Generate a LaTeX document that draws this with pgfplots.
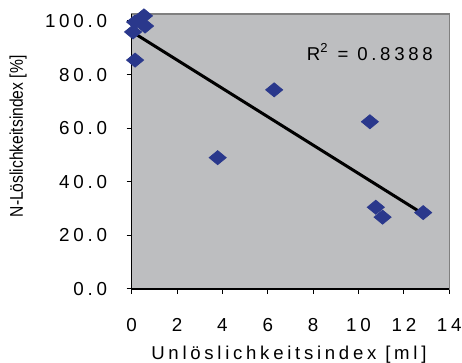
\documentclass[border=0pt]{standalone}
\usepackage{fontspec}
\setmainfont{Liberation Sans}
\newfontfamily\spaced{Liberation Sans}[LetterSpace=20]
\newfontfamily\rfont{Liberation Sans}[LetterSpace=20]
\usepackage{graphicx}
\usepackage{pgfplots}
\pgfplotsset{compat=1.18}
\definecolor{plotgray}{RGB}{189,190,192}
\definecolor{bordergray}{RGB}{128,128,128}
\definecolor{navy}{RGB}{42,56,140}
\begin{document}
\begin{tikzpicture}
\useasboundingbox (-65.85pt,-37pt) rectangle (165.15pt,144.5pt);
\begin{axis}[
  scale only axis,
  width=158.8pt, height=137.5pt,
  xmin=0, xmax=14, ymin=0, ymax=102.6,
  xtick={0,2,...,14}, ytick={0,20,...,100},
  xtick pos=bottom, ytick pos=left,
  tick align=outside,
  major tick length=2.5pt,
  tick style={black, line width=0.5pt},
  axis background/.style={fill=plotgray},
  axis line style={draw=bordergray, line width=0.6pt},
  /pgf/number format/assume math mode=true,
  yticklabel={\pgfmathprintnumber[fixed, fixed zerofill, precision=1]{\tick}},
  xticklabel={\pgfmathprintnumber{\tick}},
  ticklabel style={font=\spaced\fontsize{9.4}{11}\selectfont},
  yticklabel style={inner sep=0pt, anchor=east, xshift=-9.6pt},
  xticklabel style={inner sep=0pt, anchor=base, yshift=-18.85pt},
  xlabel={Unlöslichkeitsindex [ml]},
  ylabel={\scalebox{0.85}[1]{N-Löslichkeitsindex [\%]}},
  xlabel style={font=\spaced\fontsize{9.3}{11}\selectfont, at={(axis description cs:0.495,-0.258)}, anchor=base, inner sep=0pt},
  ylabel style={font=\fontsize{9.2}{11}\selectfont, at={(axis description cs:-0.358,0.555)}, anchor=center, inner sep=0pt},
  clip=false,
]
\draw[black, line width=0.6pt] (rel axis cs:0,1) -- (rel axis cs:0,0) -- (rel axis cs:1,0);
\addplot[black, line width=1.5pt, no marks] coordinates {(0.06,95.7) (12.85,28.0)};
\addplot[only marks, mark=diamond*, mark size=3.5pt, mark options={xscale=1.62, fill=navy, draw=navy}] coordinates {
(0.54,101.9) (0.15,99.6) (0.59,98.1) (0.06,95.9) (0.15,85.4)
(6.28,74.3) (3.79,49.0) (10.5,62.4) (10.76,30.5) (11.06,26.8) (12.85,28.5)
};
\node[font=\rfont\fontsize{9.3}{11}\selectfont, anchor=center] at (axis cs:10.5,88.5) {R\textsuperscript{2} = 0.8388};
\end{axis}
\end{tikzpicture}
\end{document}
